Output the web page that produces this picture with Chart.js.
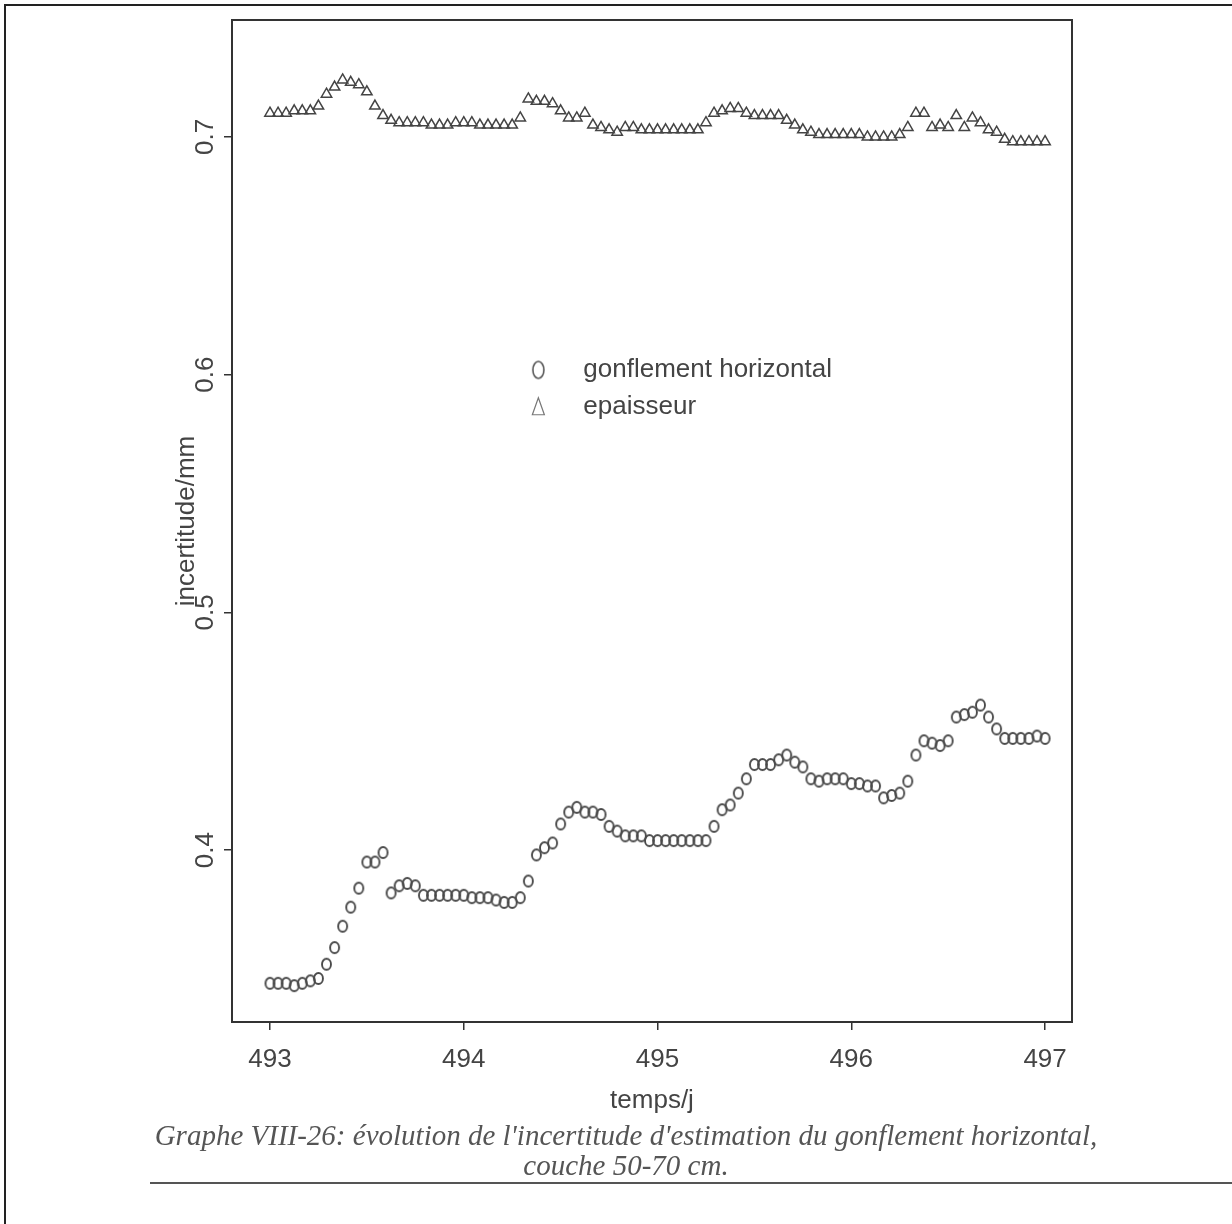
<!DOCTYPE html>
<html>
<head>
<meta charset="utf-8">
<title>Graphe VIII-26</title>
<script src="https://cdn.jsdelivr.net/npm/chart.js@4.4.1/dist/chart.umd.min.js"></script>
<style>
  html, body { margin: 0; padding: 0; background: #fff; }
  #page { position: relative; width: 1232px; height: 1224px; overflow: hidden; }
  #chart { position: absolute; left: 0; top: 0; }
  .rule { position: absolute; background: #222; }
</style>
</head>
<body>
<div id="page">
  <canvas id="chart" width="1232" height="1224"></canvas>
  <div class="rule" style="left:4px;top:4px;width:1228px;height:2px"></div>
  <div class="rule" style="left:4px;top:4px;width:2px;height:1220px"></div>
  <div class="rule" style="left:150px;top:1182px;width:1082px;height:2px;background:#555"></div>
</div>
<script>
// hourly readings, day 493 to day 497
const tStart = 493;
const tStep = 1 / 24;

const xTicks = [493, 494, 495, 496, 497];
const yTicks = [0.4, 0.5, 0.6, 0.7];

const seriesNames = ['gonflement horizontal', 'epaisseur'];

const gonflement = [
  0.344, 0.344, 0.344, 0.343, 0.344, 0.345, 0.346, 0.352, 0.359, 0.368, 0.376, 0.384, 0.395, 0.395, 0.399,
  0.382, 0.385, 0.386, 0.385, 0.381,
  0.381, 0.381, 0.381, 0.381, 0.381, 0.380, 0.380, 0.380, 0.379, 0.378, 0.378, 0.380,
  0.387, 0.398, 0.401, 0.403, 0.411, 0.416, 0.418,
  0.416, 0.416, 0.415, 0.410, 0.408, 0.406, 0.406, 0.406, 0.404, 0.404, 0.404, 0.404, 0.404, 0.404, 0.404, 0.404,
  0.410, 0.417, 0.419, 0.424, 0.430, 0.436, 0.436, 0.436, 0.438, 0.440, 0.437, 0.435, 0.430, 0.429, 0.430, 0.430,
  0.430, 0.428, 0.428, 0.427, 0.427,
  0.422, 0.423, 0.424, 0.429, 0.440, 0.446, 0.445, 0.444, 0.446, 0.456, 0.457, 0.458, 0.461, 0.456, 0.451, 0.447,
  0.447, 0.447, 0.447, 0.448, 0.447
];

const epaisseur = [
  0.710, 0.710, 0.710, 0.711, 0.711, 0.711,
  0.713, 0.718, 0.721, 0.724, 0.723, 0.722, 0.719, 0.713, 0.709, 0.707,
  0.706, 0.706, 0.706, 0.706, 0.705, 0.705, 0.705, 0.706, 0.706, 0.706, 0.705, 0.705, 0.705, 0.705, 0.705,
  0.708, 0.716, 0.715, 0.715, 0.714, 0.711, 0.708, 0.708, 0.710,
  0.705, 0.704, 0.703, 0.702, 0.704, 0.704, 0.703, 0.703, 0.703, 0.703, 0.703, 0.703, 0.703, 0.703,
  0.706, 0.710, 0.711, 0.712, 0.712, 0.710, 0.709, 0.709, 0.709, 0.709,
  0.707, 0.705, 0.703, 0.702, 0.701, 0.701, 0.701, 0.701, 0.701, 0.701, 0.700, 0.700, 0.700, 0.700, 0.701,
  0.704, 0.710, 0.710, 0.704, 0.705, 0.704, 0.709, 0.704, 0.708, 0.706, 0.703, 0.702,
  0.699, 0.698, 0.698, 0.698, 0.698, 0.698
];

const caption = [
  "Graphe VIII-26: évolution de l'incertitude d'estimation du gonflement horizontal,",
  'couche 50-70 cm.'
];

const sans = '"Liberation Sans", Arial, sans-serif';
const ink = '#444';

// open oval, like the scanned R circles
function ovalMarker(w, h, color, lw) {
  const c = document.createElement('canvas');
  c.width = w + 4;
  c.height = h + 4;
  const g = c.getContext('2d');
  g.strokeStyle = color;
  g.lineWidth = lw;
  g.beginPath();
  g.ellipse(c.width / 2, c.height / 2, w / 2, h / 2, 0, 0, Math.PI * 2);
  g.stroke();
  return c;
}

const oval = ovalMarker(9, 11, '#4a4a4a', 1.9);
const bigOval = ovalMarker(11, 17, '#555', 1.6);

const toPoints = vals => vals.map((v, i) => ({ x: tStart + i * tStep, y: v }));

const boxPlugin = {
  id: 'box',
  afterDatasetsDraw(chart) {
    const a = chart.chartArea;
    const c = chart.ctx;
    c.save();
    c.strokeStyle = '#333';
    c.lineWidth = 2;
    c.strokeRect(a.left, a.top, a.right - a.left, a.bottom - a.top);
    c.restore();
  }
};

// legend placed in data coordinates, as R's legend() does
const legendAt = { x: 494.385, y: 0.602, gap: 0.0155, textX: 494.617 };

const legendPlugin = {
  id: 'innerLegend',
  afterDraw(chart) {
    const c = chart.ctx;
    const xs = chart.scales.x, ys = chart.scales.y;
    const mx = xs.getPixelForValue(legendAt.x);
    const tx = xs.getPixelForValue(legendAt.textX);
    c.save();
    c.font = '26px ' + sans;
    c.fillStyle = ink;
    c.textBaseline = 'middle';
    chart.data.datasets.forEach((ds, i) => {
      const y = ys.getPixelForValue(legendAt.y - i * legendAt.gap);
      if (i === 0) {
        c.drawImage(bigOval, mx - bigOval.width / 2, y - bigOval.height / 2);
      } else {
        c.strokeStyle = '#777';
        c.lineWidth = 1.2;
        c.beginPath();
        c.moveTo(mx, y - 9);
        c.lineTo(mx + 6, y + 8);
        c.lineTo(mx - 6, y + 8);
        c.closePath();
        c.stroke();
      }
      c.fillText(ds.label, tx, y);
    });
    c.restore();
  }
};

const ctx = document.getElementById('chart').getContext('2d');

new Chart(ctx, {
  type: 'scatter',
  data: {
    datasets: [
      {
        label: seriesNames[0],
        data: toPoints(gonflement),
        pointStyle: oval,
        pointRadius: 5,
        borderColor: '#4a4a4a',
        backgroundColor: 'transparent'
      },
      {
        label: seriesNames[1],
        data: toPoints(epaisseur),
        pointStyle: 'triangle',
        pointRadius: 6,
        borderWidth: 1.5,
        borderColor: '#444',
        backgroundColor: 'transparent'
      }
    ]
  },
  options: {
    responsive: false,
    animation: false,
    events: [],
    layout: { padding: { left: 30, right: 10, top: 20, bottom: 42 } },
    plugins: {
      legend: { display: false },
      tooltip: { enabled: false },
      title: {
        display: true,
        position: 'bottom',
        text: caption,
        color: '#555',
        font: { family: '"Liberation Serif", "Times New Roman", serif', style: 'italic', weight: 'normal', size: 29, lineHeight: 30 / 29 },
        padding: { top: 2, bottom: 0 }
      }
    },
    scales: {
      x: {
        type: 'linear',
        min: 492.804,
        max: 497.139,
        afterBuildTicks: s => { s.ticks = xTicks.map(v => ({ value: v })); },
        afterFit: s => { s.height = 98; },
        border: { display: false },
        grid: { drawOnChartArea: false, drawTicks: true, tickLength: 8, color: '#333', lineWidth: 1.5 },
        ticks: {
          color: ink,
          padding: 14,
          font: { family: sans, size: 26, lineHeight: 1.2 },
          callback: v => String(v)
        },
        title: {
          display: true,
          text: 'temps/j',
          color: ink,
          font: { family: sans, size: 26, lineHeight: 1.2 },
          padding: { top: 0, bottom: 4 }
        }
      },
      y: {
        type: 'linear',
        min: 0.3277,
        max: 0.7492,
        afterBuildTicks: s => { s.ticks = yTicks.map(v => ({ value: v })); },
        afterFit: s => { s.width = 202; },
        border: { display: false },
        grid: { drawOnChartArea: false, drawTicks: true, tickLength: 8, color: '#333', lineWidth: 1.5 },
        ticks: {
          color: ink,
          padding: 0,
          minRotation: 90,
          maxRotation: 90,
          crossAlign: 'center',
          font: { family: sans, size: 26, lineHeight: 1.2 },
          callback: v => v.toFixed(1)
        },
        title: {
          display: true,
          text: 'incertitude/mm',
          color: ink,
          font: { family: sans, size: 26, lineHeight: 1.2 },
          padding: { top: 141, bottom: 0 }
        }
      },
      yRight: {
        position: 'right',
        afterFit: s => { s.width = 150; },
        border: { display: false },
        grid: { display: false },
        ticks: { display: false }
      }
    }
  },
  plugins: [boxPlugin, legendPlugin]
});
</script>
</body>
</html>
